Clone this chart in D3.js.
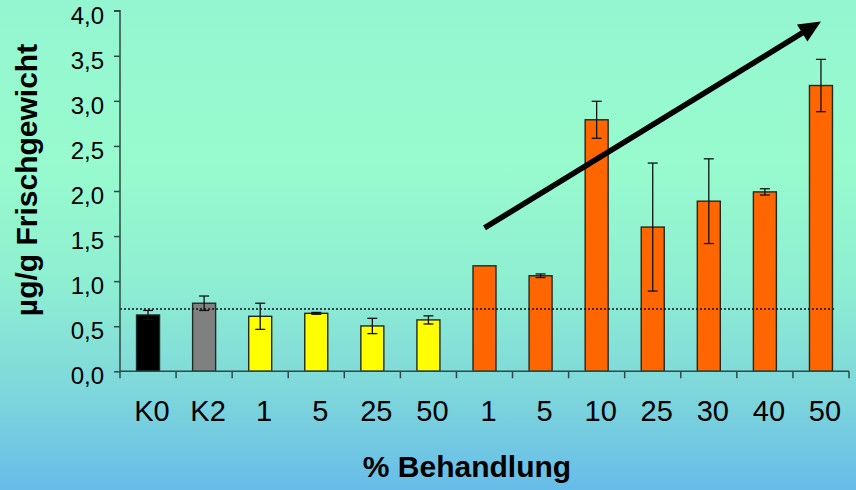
<!DOCTYPE html>
<html>
<head>
<meta charset="utf-8">
<script src="https://cdn.jsdelivr.net/npm/d3@7"></script>
<style>
  html, body { margin: 0; padding: 0; }
  body { width: 856px; height: 490px; overflow: hidden; }
  svg { display: block; font-family: "Liberation Sans", Arial, sans-serif; }
</style>
</head>
<body>
<svg id="chart" width="856" height="490"></svg>
<script>
// ---- data ----
const categories = ["K0", "K2", "1", "5", "25", "50", "1", "5", "10", "25", "30", "40", "50"];
const values = [0.625, 0.755, 0.61, 0.643, 0.503, 0.57, 1.17, 1.06, 2.79, 1.60, 1.887, 1.99, 3.17];
const errors = [0.05, 0.08, 0.145, 0.01, 0.085, 0.045, 0, 0.02, 0.205, 0.71, 0.47, 0.035, 0.29];
const groups = ["K0", "K2", "Y", "Y", "Y", "Y", "O", "O", "O", "O", "O", "O", "O"];
const groupColors = { K0: "#000000", K2: "#808080", Y: "#FFFF00", O: "#FF6600" };
const referenceValue = 0.69;
const yTicks = [0, 0.5, 1.0, 1.5, 2.0, 2.5, 3.0, 3.5, 4.0];
const arrowFrom = [6, 1.59];   // [category index, value]
const arrowTo = [12, 3.88];
const yTitle = "µg/g Frischgewicht";
const xTitle = "% Behandlung";

// ---- layout ----
const W = 856, H = 490;
const plot = { left: 120, right: 849, top: 10.7, bottom: 371.3 };

const svg = d3.select("#chart");

// background gradient
const defs = svg.append("defs");
const grad = defs.append("linearGradient").attr("id", "bg").attr("x1", 0).attr("y1", 0).attr("x2", 0).attr("y2", 1);
[[0, "#93F6D1"], [0.33, "#98FBCE"], [0.58, "#8EEED2"], [0.8, "#7ED7DB"], [1, "#67BCE8"]]
  .forEach(([o, c]) => grad.append("stop").attr("offset", o).attr("stop-color", c));
svg.append("rect").attr("width", W).attr("height", H).attr("fill", "url(#bg)");

const idx = categories.map((d, i) => i);
const x = d3.scaleBand().domain(idx).range([plot.left, plot.right]).padding(0);
const y = d3.scaleLinear().domain([0, 4]).range([plot.bottom, plot.top]);
const xc = i => x(i) + x.bandwidth() / 2;
const barW = x.bandwidth() * 0.41;
const axisColor = "#2f4a44";

// bars
svg.append("g").selectAll("rect").data(idx).join("rect")
  .attr("x", i => xc(i) - barW / 2)
  .attr("y", i => y(values[i]))
  .attr("width", barW)
  .attr("height", i => y(0) - y(values[i]))
  .attr("fill", i => groupColors[groups[i]])
  .attr("stroke", "#1e2b28")
  .attr("stroke-width", 1.4);

// error bars
const eb = svg.append("g").attr("stroke", "#111").attr("stroke-width", 1.3);
idx.filter(i => errors[i] > 0).forEach(i => {
  const cx = xc(i), cap = 5;
  const hi = y(values[i] + errors[i]), lo = y(values[i] - errors[i]);
  eb.append("line").attr("x1", cx).attr("x2", cx).attr("y1", hi).attr("y2", lo);
  eb.append("line").attr("x1", cx - cap).attr("x2", cx + cap).attr("y1", hi).attr("y2", hi);
  eb.append("line").attr("x1", cx - cap).attr("x2", cx + cap).attr("y1", lo).attr("y2", lo);
});

// reference dotted line
svg.append("line")
  .attr("x1", plot.left).attr("x2", 836)
  .attr("y1", y(referenceValue)).attr("y2", y(referenceValue))
  .attr("stroke", "#111").attr("stroke-width", 1.5)
  .attr("stroke-dasharray", "2,2");

// y axis
const yAxis = d3.axisLeft(y).tickValues(yTicks).tickSize(6).tickPadding(10)
  .tickFormat(d => d3.format(".1f")(d).replace(".", ","));
const gy = svg.append("g").attr("transform", `translate(${plot.left},0)`).call(yAxis);
gy.select(".domain").attr("stroke", axisColor).attr("stroke-width", 1.5).attr("d", `M-6,${plot.top}H0V${plot.bottom}`);
gy.selectAll(".tick line").attr("stroke", axisColor).attr("stroke-width", 1.5);
gy.selectAll(".tick text").attr("fill", "#000").attr("font-size", 24)
  .attr("font-family", "'Liberation Sans', Arial, sans-serif").attr("dy", "0.52em");

// x axis: ticks at category boundaries
const gx = svg.append("g");
gx.append("line").attr("x1", plot.left).attr("x2", plot.right)
  .attr("y1", plot.bottom).attr("y2", plot.bottom)
  .attr("stroke", axisColor).attr("stroke-width", 1.5);
const bounds = idx.map(i => x(i)).concat([plot.right]);
gx.selectAll("line.tk").data(bounds).join("line").attr("class", "tk")
  .attr("x1", d => d).attr("x2", d => d)
  .attr("y1", plot.bottom).attr("y2", plot.bottom + 7)
  .attr("stroke", axisColor).attr("stroke-width", 1.5);
gx.selectAll("text").data(idx).join("text")
  .attr("x", i => xc(i) + 4).attr("y", 421)
  .attr("text-anchor", "middle").attr("font-size", 29)
  .attr("fill", "#000")
  .text(i => categories[i]);

// axis titles
svg.append("text").attr("x", 467).attr("y", 477)
  .attr("text-anchor", "middle").attr("font-size", 30).attr("font-weight", "bold")
  .text(xTitle);
svg.append("text").attr("transform", "translate(37,180) rotate(-90)")
  .attr("text-anchor", "middle").attr("font-size", 30).attr("font-weight", "bold")
  .text(yTitle);

// trend arrow
const ax1 = xc(arrowFrom[0]), ay1 = y(arrowFrom[1]);
const ax2 = xc(arrowTo[0]), ay2 = y(arrowTo[1]);
const ang = Math.atan2(ay2 - ay1, ax2 - ax1);
const headLen = 22, headHalf = 10;
const bx = ax2 - Math.cos(ang) * headLen, by = ay2 - Math.sin(ang) * headLen;
svg.append("line")
  .attr("x1", ax1).attr("y1", ay1)
  .attr("x2", ax2 - Math.cos(ang) * (headLen - 3)).attr("y2", ay2 - Math.sin(ang) * (headLen - 3))
  .attr("stroke", "#000").attr("stroke-width", 5.5);
const px = -Math.sin(ang), py = Math.cos(ang);
svg.append("path")
  .attr("d", d3.line()([
    [ax2, ay2],
    [bx + px * headHalf, by + py * headHalf],
    [bx - px * headHalf, by - py * headHalf]
  ]) + "Z")
  .attr("fill", "#000");
</script>
</body>
</html>
